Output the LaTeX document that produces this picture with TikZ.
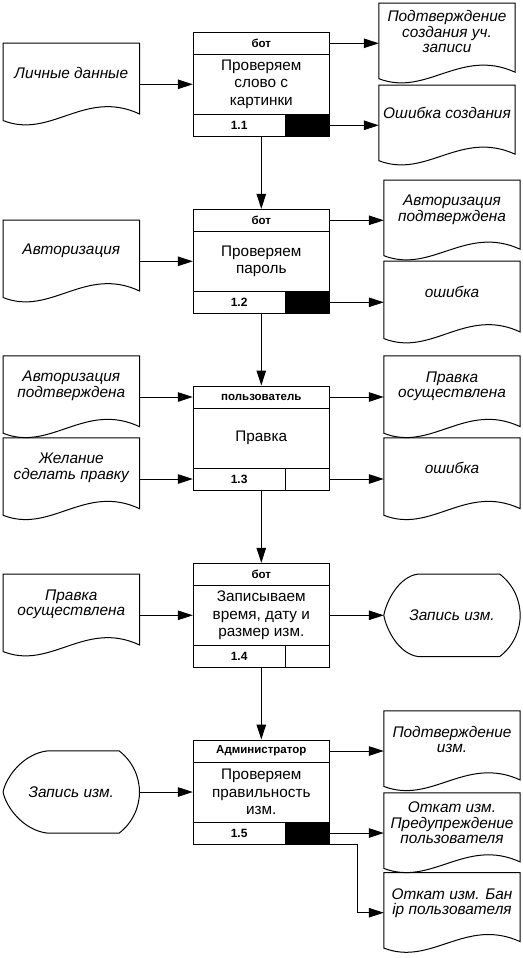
\documentclass[tikz,border=0pt]{standalone}
\usepackage{fontspec}
\setmainfont{Liberation Sans}
\usetikzlibrary{arrows.meta,calc}

\tikzset{
  arr/.style={-{Triangle[length=15pt,width=9.5pt]}, line width=1pt},
  cellbox/.style={draw, line width=1pt, minimum width=136pt, inner sep=0pt},
  hdr/.style={cellbox, minimum height=22pt, font=\bfseries\fontsize{11.5pt}{13pt}\selectfont},
  bdy/.style={cellbox, minimum height=60pt, align=center, font=\fontsize{15.3pt}{17.5pt}\selectfont},
  ftr/.style={cellbox, minimum height=22pt},
  blk/.style={draw, line width=1pt, minimum width=44.3pt, minimum height=22pt, inner sep=0pt},
  numtext/.style={font=\bfseries\fontsize{12pt}{14pt}\selectfont, inner sep=0pt},
  docbox/.style={minimum width=136pt, minimum height=#1, inner sep=0pt},
  doctext/.style={align=center, inner sep=0pt, font=\itshape\fontsize{15.4pt}{15.5pt}\selectfont},
  outl/.style={line width=1pt},
}

\newcommand\mkproc[6]{%
  \node[hdr] (#1h) at (261.3,#2+11) {#3};
  \node[bdy] (#1b) at (261.3,#2+52) {#4};
  \node[ftr] (#1f) at (261.3,#2+93) {};
  \node[blk, fill=#6, anchor=east] (#1c) at (#1f.east) {};
  \node[numtext] (#1n) at ([xshift=-22.15pt]#1f.center) {#5};
}

\newcommand\mkdoc[6]{%
  \node[docbox=#4pt] (#1) at (#2,#3) {};
  \draw[outl] let \p1=(#1.north west), \p2=(#1.south east),
      \n1={\x2-\x1}, \n2={\y1-\y2} in
    (\x1,\y1) -- (\x2,\y1) -- (\x2,\y1-0.86*\n2)
    .. controls (\x1+0.6*\n1,\y1-0.55*\n2) and (\x1+0.35*\n1,\y1-1.17*\n2) ..
    (\x1,\y1-0.94*\n2) -- cycle;
  \node[doctext] (#1t) at (#2,#5) {#6};
}

\newcommand\mkdisp[6]{%
  \node[docbox=#4pt] (#1) at (#2,#3) {};
  \draw[outl] let \p1=(#1.north west), \p2=(#1.south east),
      \n1={\x2-\x1}, \n2={\y1-\y2} in
    (\x1+#5*\n1,\y1) -- (\x1+0.85*\n1,\y1)
    .. controls (\x1+0.96*\n1,\y1-0.14*\n2) and (\x2,\y1-0.34*\n2) .. (\x2,\y1-0.5*\n2)
    .. controls (\x2,\y1-0.66*\n2) and (\x1+0.96*\n1,\y1-0.86*\n2) .. (\x1+0.85*\n1,\y2)
    -- (\x1+#5*\n1,\y2)
    .. controls (\x1+0.45*#5*\n1,\y2+0.03*\n2) and (\x1+0.02*\n1,\y1-0.68*\n2) .. (\x1,\y1-0.5*\n2)
    .. controls (\x1+0.02*\n1,\y1-0.32*\n2) and (\x1+0.45*#5*\n1,\y1-0.03*\n2) .. (\x1+#5*\n1,\y1)
    -- cycle;
  \node[doctext] (#1t) at (#2,#3) {#6};
}

\begin{document}
\begin{tikzpicture}[x=1pt,y=-1pt]
\fill[white] (0,0) rectangle (522,958);
\useasboundingbox (0,0) rectangle (522,958);

% process boxes
\mkproc{b1}{32.3}{бот}{Проверяем\\слово с\\картинки}{1.1}{black}
\mkproc{b2}{209.3}{бот}{Проверяем\\пароль}{1.2}{black}
\mkproc{b3}{386}{пользователь}{Правка}{1.3}{white}
\mkproc{b4}{563.3}{бот}{Записываем\\время, дату и\\размер изм.}{1.4}{white}
\mkproc{b5}{740}{Администратор}{Проверяем\\правильность\\изм.}{1.5}{black}

% left inputs
\mkdoc{l1}{71.3}{84.3}{82}{73}{Личные данные}
\mkdoc{l2}{71.3}{261.3}{82}{251}{Авторизация}
\mkdoc{l3}{71.3}{397}{82}{386}{Авторизация\\подтверждена}
\mkdoc{l4}{71.3}{479}{82}{468}{Желание\\сделать правку}
\mkdoc{l5}{71.3}{615.3}{82}{604.5}{Правка\\осуществлена}
\mkdisp{l6}{71.3}{792}{82}{0.33}{Запись изм.}

% right outputs
\mkdoc{r1}{447}{43.3}{80}{31.7}{Подтверждение\\создания уч.\\записи}
\mkdoc{r2}{447}{125.3}{80}{113}{Ошибка создания}
\mkdoc{r3}{452}{220.3}{80}{209.7}{Авторизация\\подтверждена}
\mkdoc{r4}{452}{302.3}{82}{291.7}{ошибка}
\mkdoc{r5}{452}{397}{82}{386.3}{Правка\\осуществлена}
\mkdoc{r6}{452}{479}{82}{468.3}{ошибка}
\mkdisp{r7}{452}{615.3}{82}{0.25}{Запись изм.}
\mkdoc{r8}{452}{751}{80}{739.7}{Подтверждение\\изм.}
\mkdoc{r9}{452}{833}{80}{822.7}{Откат изм.\\Предупреждение\\пользователя}
\mkdoc{r10}{452}{912.7}{80}{903.3}{Откат изм. Бан\\ip пользователя}

% connectors: inputs
\draw[arr] (l1.east) -- (l1.east -| b1b.west);
\draw[arr] (l2.east) -- (l2.east -| b2b.west);
\draw[arr] (l3.east) -- (l3.east -| b3h.west);
\draw[arr] (l4.east) -- (l4.east -| b3f.west);
\draw[arr] (l5.east) -- (l5.east -| b4b.west);
\draw[arr] (l6.east) -- (l6.east -| b5b.west);

% connectors: outputs
\draw[arr] (b1h.east) -- (b1h.east -| r1.west);
\draw[arr] (b1c.east) -- (b1c.east -| r2.west);
\draw[arr] (b2h.east) -- (b2h.east -| r3.west);
\draw[arr] (b2c.east) -- (b2c.east -| r4.west);
\draw[arr] (b3h.east) -- (b3h.east -| r5.west);
\draw[arr] (b3c.east) -- (b3c.east -| r6.west);
\draw[arr] (b4b.east) -- (b4b.east -| r7.west);
\draw[arr] (b5h.east) -- (b5h.east -| r8.west);
\draw[arr] (b5c.east) -- (b5c.east -| r9.west);
\draw[arr] (b5c.south east) -- ++(27.4,0) |- (r10.west);

% connectors: flow
\draw[arr] (b1f.south) -- (b2h.north);
\draw[arr] (b2f.south) -- (b3h.north);
\draw[arr] (b3f.south) -- (b4h.north);
\draw[arr] (b4f.south) -- (b5h.north);
\end{tikzpicture}
\end{document}
